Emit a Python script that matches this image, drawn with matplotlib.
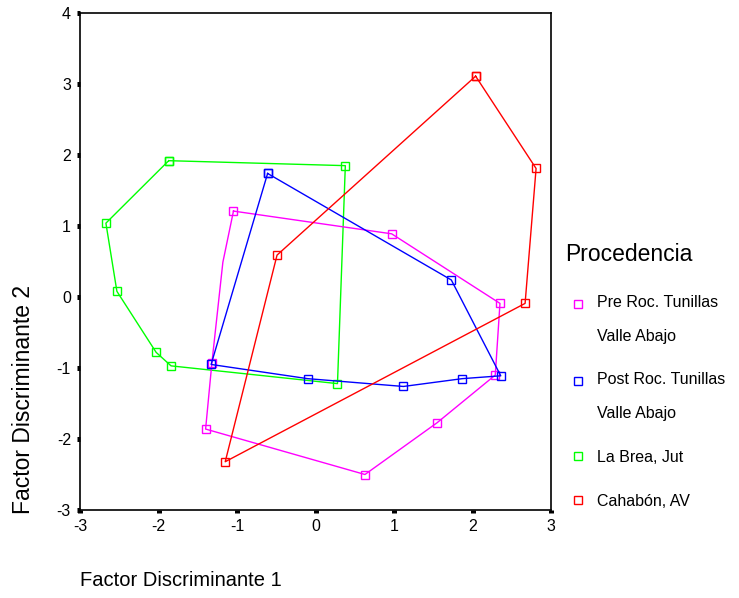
import matplotlib
matplotlib.use('Agg')
import numpy as np
import matplotlib.pyplot as plt
from matplotlib.lines import Line2D
from matplotlib.legend_handler import HandlerLine2D

plt.rcParams['font.family'] = ['Liberation Sans', 'DejaVu Sans']
plt.rcParams['axes.unicode_minus'] = False

# --- datos (contornos de cada grupo) ---
pink_x = [-1.045, 0.97, 2.35, 2.29, 1.55, 0.63, -1.40, -1.32, -1.18]
pink_y = [1.21, 0.89, -0.09, -1.10, -1.77, -2.50, -1.86, -0.93, 0.49]
pink_marks = [0, 1, 2, 3, 4, 5, 6, 7]

blue_x = [-0.61, 1.73, 2.36, 1.87, 1.12, -0.10, -1.33]
blue_y = [1.74, 0.24, -1.11, -1.15, -1.26, -1.15, -0.95]

green_x = [-1.87, 0.38, 0.28, -1.84, -2.03, -2.53, -2.67]
green_y = [1.92, 1.85, -1.22, -0.97, -0.78, 0.08, 1.04]

red_x = [2.04, 2.81, 2.67, -1.15, -0.49]
red_y = [3.11, 1.81, -0.09, -2.32, 0.59]

labels = ['Pre Roc. Tunillas\nValle Abajo', 'Post Roc. Tunillas\nValle Abajo',
          'La Brea, Jut', 'Cahabón, AV']
colors = ['#ff00ff', '#0000ff', '#00ff00', '#ff0000']

x_ticks = [-3, -2, -1, 0, 1, 2, 3]
y_ticks = [-3, -2, -1, 0, 1, 2, 3, 4]


def closed(v):
    return list(v) + [v[0]]


class HandlerPrimeraLinea(HandlerLine2D):
    # pone el marcador a la altura de la primera linea de una etiqueta de dos lineas
    def __init__(self, lift, **kw):
        super().__init__(**kw)
        self.lift = lift

    def create_artists(self, legend, orig_handle, xdescent, ydescent, width, height, fontsize, trans):
        arts = super().create_artists(legend, orig_handle, xdescent, ydescent, width, height, fontsize, trans)
        for a in arts:
            a.set_ydata(np.asarray(a.get_ydata()) + self.lift)
        return arts


fig = plt.figure(figsize=(7.39, 5.98), dpi=100)
ax = fig.add_axes([80 / 739, 1 - 510 / 598, 471 / 739, 497 / 598])

style = dict(marker='s', markersize=5.5, markerfacecolor='none', markeredgewidth=1, linewidth=1)
ax.plot(closed(green_x), closed(green_y), color=colors[2], **style)
ax.plot(closed(pink_x), closed(pink_y), color=colors[0], markevery=pink_marks, **style)
ax.plot(closed(blue_x), closed(blue_y), color=colors[1], **style)
ax.plot(closed(red_x), closed(red_y), color=colors[3], **style)

ax.set_xlim(-3, 3)
ax.set_ylim(-3, 4)
ax.set_xticks(x_ticks)
ax.set_yticks(y_ticks)
ax.tick_params(direction='out', length=2.5, width=3.6, labelsize=11.5, pad=4, colors='black')
for s in ax.spines.values():
    s.set_linewidth(1.2)

fig.text(80 / 739, 1 - 581 / 598, 'Factor Discriminante 1', ha='left', va='center', fontsize=14.5)
fig.text(24 / 739, 1 - 514 / 598, 'Factor Discriminante 2', ha='center', va='bottom',
         rotation=90, fontsize=16.5)

# --- leyenda ---
handles = [Line2D([], [], color=c, marker='s', markersize=5.5, markerfacecolor='none',
                  markeredgewidth=1, linestyle='none') for c in colors]
hmap = {handles[0]: HandlerPrimeraLinea(11.5), handles[1]: HandlerPrimeraLinea(11.5)}
leg = ax.legend(handles, labels, title='Procedencia', loc='upper left',
                bbox_to_anchor=(551 / 739, 1 - 229 / 598), bbox_transform=fig.transFigure,
                frameon=False, fontsize=11.5, title_fontsize=16.5, handlelength=1.55,
                handletextpad=0.42, labelspacing=1.8, handler_map=hmap)
leg._legend_box.align = 'left'
for t in leg.get_texts():
    t.set_linespacing(2.55)

fig.savefig('out.png', dpi=100)
